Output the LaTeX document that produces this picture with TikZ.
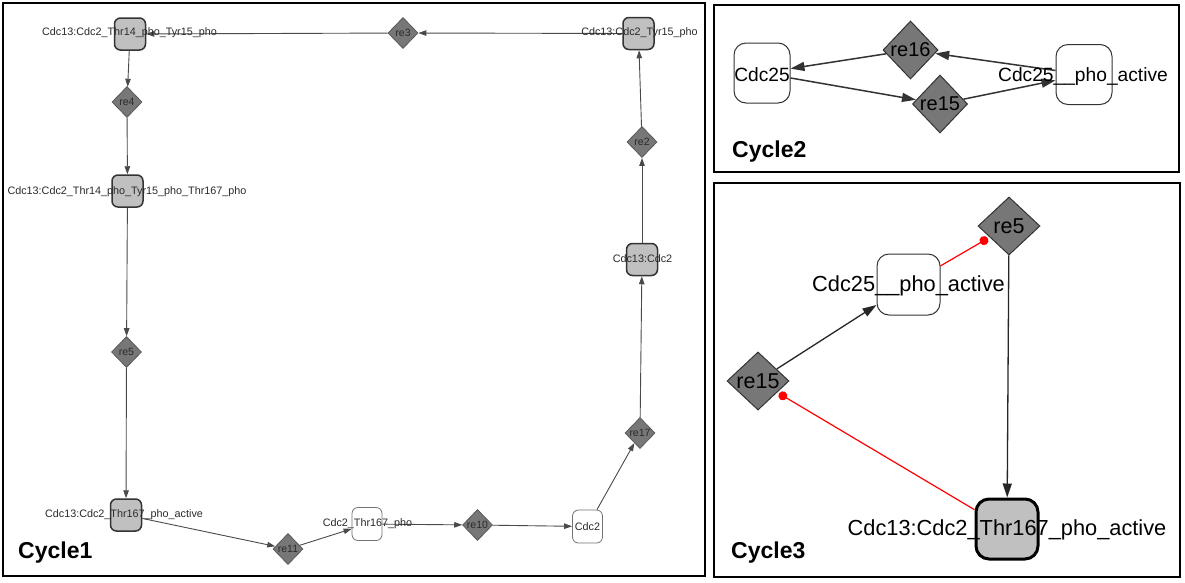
\documentclass[tikz,border=0pt]{standalone}
\usepackage{fontspec}
\setmainfont{Liberation Sans}
\usetikzlibrary{shapes.geometric,arrows.meta}
\definecolor{boxgray}{HTML}{C0C0C0}
\definecolor{diagray}{HTML}{777777}
\definecolor{edgegray}{HTML}{4A4A4A}
\definecolor{txtgray}{HTML}{2A2A2A}
\definecolor{dotred}{HTML}{FF0000}
\begin{document}
\begin{tikzpicture}[x=1pt,y=-1pt,
  panel/.style={draw=black,line width=2.5pt},
  spA/.style={draw=black!80,fill=boxgray,rounded corners=6pt,line width=1.5pt,minimum width=31pt,minimum height=32pt,inner sep=0pt},
  spW/.style={draw=black!55,fill=white,rounded corners=6pt,line width=0.8pt,minimum width=30pt,minimum height=33pt,inner sep=0pt},
  diaA/.style={diamond,aspect=1,draw=black!65,fill=diagray,line width=0.8pt,inner sep=0pt,minimum width=30pt,minimum height=31pt,font=\fontsize{10.5}{12}\selectfont,text=txtgray},
  lblA/.style={font=\fontsize{10.8}{12}\selectfont,text=txtgray,inner sep=0pt},
  eA/.style={draw=edgegray,line width=0.9pt,-{Triangle[length=8pt,width=5.5pt]}},
  spB/.style={draw=black!80,fill=white,rounded corners=12pt,line width=1pt,minimum width=56pt,minimum height=60pt,inner sep=0pt},
  spC/.style={draw=black,fill=boxgray,rounded corners=13pt,line width=3pt,minimum width=62pt,minimum height=60pt,inner sep=0pt},
  diaB/.style={diamond,aspect=1,draw=black!80,fill=diagray,line width=1pt,inner sep=0pt,minimum width=55pt,minimum height=58pt,font=\fontsize{20}{22}\selectfont,text=black},
  diaC/.style={diaB,minimum width=62pt,minimum height=58pt,font=\fontsize{21.5}{24}\selectfont},
  lblB/.style={font=\fontsize{19.2}{22}\selectfont,text=black,inner sep=0pt},
  lblC/.style={font=\fontsize{21.8}{24}\selectfont,text=black,inner sep=0pt},
  eB/.style={draw=black!80,line width=1.5pt,-{Triangle[length=14pt,width=9pt]}},
  eC/.style={draw=black!85,line width=1.3pt,-{Triangle[length=14pt,width=9pt]}},
  inhib/.style={draw=dotred,line width=1.2pt,-{Circle[length=9pt]},shorten >=2pt},
  title/.style={font=\fontsize{23}{26}\bfseries\selectfont,text=black,inner sep=0pt,anchor=base west}
]
\useasboundingbox (0,0) rectangle (1185,582);
\fill[white] (0,0) rectangle (1185,582);

% panels
\draw[panel] (3,3) rectangle (705,576);
\draw[panel] (714,5) rectangle (1179,172);
\draw[panel] (714,183) rectangle (1180,577);

% ---------- Cycle1 ----------
\node[spA] (A) at (130,34) {};
\node[diaA] (re3) at (403,33) {re3};
\node[spA] (T15) at (638.5,33.5) {};
\node[diaA] (re4) at (127,102) {re4};
\node[spA] (B) at (127.5,191) {};
\node[diaA] (re5) at (126.5,352) {re5};
\node[spA] (Act) at (126,515) {};
\node[diaA] (re11) at (288,549) {re11};
\node[spW] (T167) at (367,524) {};
\node[diaA] (re10) at (477.5,525) {re10};
\node[spW] (C2) at (587.5,526.5) {};
\node[diaA] (re17) at (640,433) {re17};
\node[spA] (CC) at (642,259.5) {};
\node[diaA] (re2) at (642,142) {re2};

\draw[eA] (re3) -- (A);
\draw[eA] (T15) -- (re3);
\draw[eA] (A) -- (re4);
\draw[eA] (re4) -- (B);
\draw[eA] (B) -- (re5);
\draw[eA] (re5) -- (Act);
\draw[eA] (Act) -- (re11);
\draw[eA] (re11) -- (T167);
\draw[eA] (T167) -- (re10);
\draw[eA] (re10) -- (C2);
\draw[eA] (C2) -- (re17);
\draw[eA] (re17) -- (CC);
\draw[eA] (CC) -- (re2);
\draw[eA] (re2) -- (T15);

\node[lblA] (Al) at (129.5,33) {Cdc13:Cdc2\_Thr14\_pho\_Tyr15\_pho};
\node[lblA] (T15l) at (639.5,33) {Cdc13:Cdc2\_Tyr15\_pho};
\node[lblA] (Bl) at (127,192) {Cdc13:Cdc2\_Thr14\_pho\_Tyr15\_pho\_Thr167\_pho};
\node[lblA] (Actl) at (124,515) {Cdc13:Cdc2\_Thr167\_pho\_active};
\node[lblA] (T167l) at (367.5,524) {Cdc2\_Thr167\_pho};
\node[lblA] (C2l) at (587.5,526.5) {Cdc2};
\node[lblA] (CCl) at (642.5,259) {Cdc13:Cdc2};
\node[title] (t1) at (18,558) {Cycle1};

% ---------- Cycle2 ----------
\node[spB] (c2a) at (762,73) {};
\node[diaB] (c2re16) at (910.5,50) {re16};
\node[diaB] (c2re15) at (940,104) {re15};
\node[spB] (c2b) at (1084,74.5) {};
\draw[eB] (c2re16) -- (c2a);
\draw[eB] (c2a) -- (c2re15);
\draw[eB] (c2re15) -- (c2b);
\draw[eB] (c2b) -- (c2re16);
\node[lblB] (c2al) at (762,75) {Cdc25};
\node[lblB] (c2bl) at (1083,77) {Cdc25\_\_pho\_active};
\node[title] (t2) at (732,157) {Cycle2};

% ---------- Cycle3 ----------
\node[diaC] (c3re5) at (1009,226) {re5};
\node[spB,minimum width=63pt,minimum height=61pt] (c3a) at (908.5,284.5) {};
\node[diaC] (c3re15) at (758,381) {re15};
\node[spC] (c3b) at (1007,529) {};
\draw[inhib] (c3a) -- (c3re5);
\draw[eC] (c3re5) -- (c3b);
\draw[eC] (c3re15) -- (c3a);
\draw[inhib] (c3b) -- (c3re15);
\node[lblC] (c3al) at (908.5,286) {Cdc25\_\_pho\_active};
\node[lblC] (c3bl) at (1007,530) {Cdc13:Cdc2\_Thr167\_pho\_active};
\node[title] (t3) at (731,558) {Cycle3};
\end{tikzpicture}
\end{document}
